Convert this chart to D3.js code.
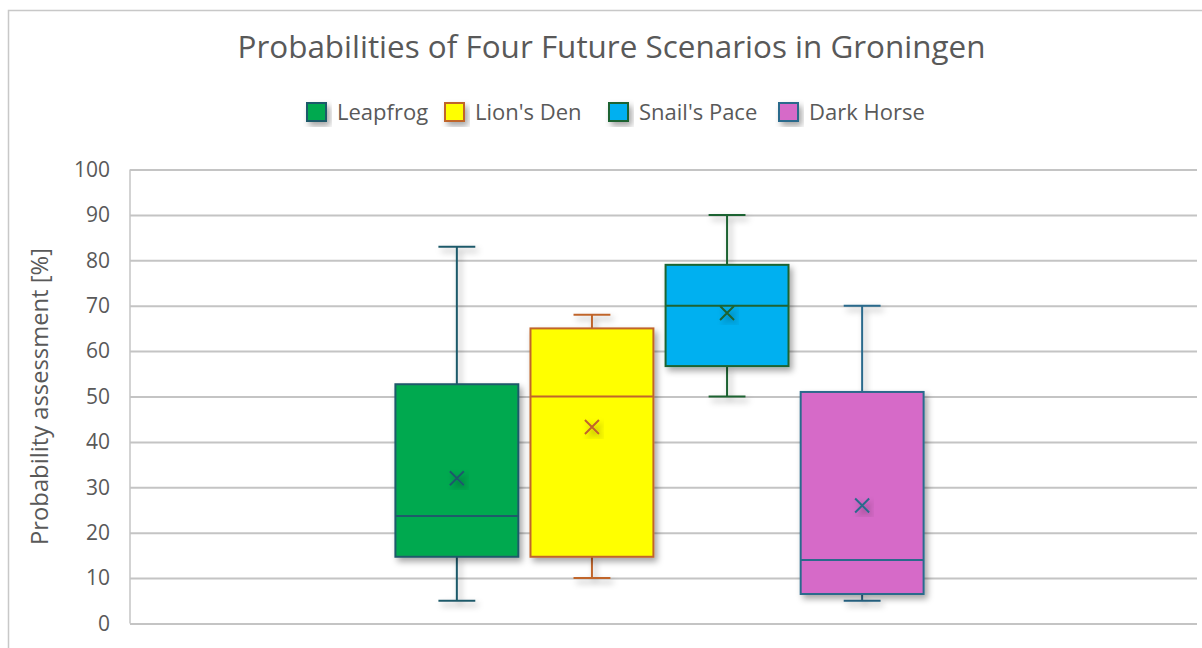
<!DOCTYPE html>
<html>
<head>
<meta charset="utf-8">
<script src="https://cdn.jsdelivr.net/npm/d3@7"></script>
<style>
  body { margin: 0; background: #fff; }
  svg { display: block; font-family: "Open Sans", "Liberation Sans", sans-serif; }
</style>
</head>
<body>
<svg id="chart" width="1202" height="648"></svg>
<script>
// data
const categories = [""];
const seriesNames = ["Leapfrog", "Lion's Den", "Snail's Pace", "Dark Horse"];
const minVals    = [5, 10, 50, 5];
const q1Vals     = [14.7, 14.7, 56.7, 6.5];
const medianVals = [23.7, 50, 70, 14];
const q3Vals     = [52.7, 65, 79, 51];
const maxVals    = [83, 68, 90, 70];
const meanVals   = [32, 43.3, 68.4, 26];
const yTicks = [0, 10, 20, 30, 40, 50, 60, 70, 80, 90, 100];

const fills   = ["#00A94F", "#FFFF00", "#00B0F0", "#D66BC8"];
const strokes = ["#1F5A6A", "#C0652C", "#1E6332", "#2A6A8C"];

const svg = d3.select("#chart");
const textCol = "#595959";

// drop shadow for the boxes
const defs = svg.append("defs");
const f = defs.append("filter").attr("id", "shadow")
  .attr("x", "-20%").attr("y", "-20%").attr("width", "150%").attr("height", "150%");
f.append("feDropShadow").attr("dx", 3).attr("dy", 4).attr("stdDeviation", 3)
  .attr("flood-color", "#000").attr("flood-opacity", 0.35);

// outer frame
svg.append("rect").attr("x", 8.5).attr("y", 10.5).attr("width", 1220).attr("height", 680)
  .attr("fill", "none").attr("stroke", "#C8C8C8").attr("stroke-width", 1.5);

const plot = { left: 130, right: 1197, top: 169.5, bottom: 623.5 };

const y = d3.scaleLinear().domain([0, 100]).range([plot.bottom, plot.top]);
const x0 = d3.scaleBand().domain(categories).range([plot.left - 4, plot.right - 4])
  .paddingInner(0).paddingOuter(0.51);
const x1 = d3.scaleBand().domain(seriesNames).range([0, x0.bandwidth()])
  .paddingInner(0.09).paddingOuter(0);

// gridlines
const grid = svg.append("g")
  .attr("transform", `translate(${plot.left},0)`)
  .call(d3.axisLeft(y).tickValues(yTicks).tickSize(-(plot.right - plot.left)).tickFormat(""));
grid.select(".domain").remove();
grid.selectAll(".tick line").attr("stroke", "#C4C4C4").attr("stroke-width", 2);

// vertical axis line
svg.append("line").attr("x1", plot.left).attr("x2", plot.left)
  .attr("y1", plot.top).attr("y2", plot.bottom)
  .attr("stroke", "#C4C4C4").attr("stroke-width", 1.5);

// y tick labels
const yAxis = svg.append("g")
  .attr("transform", `translate(${plot.left - 20},0)`)
  .call(d3.axisLeft(y).tickValues(yTicks).tickSize(0).tickPadding(0));
yAxis.select(".domain").remove();
yAxis.selectAll("text").attr("fill", textCol).attr("font-size", 21)
  .attr("font-family", "'Open Sans', sans-serif");

// y axis title
svg.append("text")
  .attr("transform", `translate(48,${(545 + 248) / 2}) rotate(-90)`)
  .attr("text-anchor", "middle").attr("fill", textCol).attr("font-size", 23)
  .attr("textLength", 297).attr("lengthAdjust", "spacingAndGlyphs")
  .text("Probability assessment [%]");

// title
svg.append("text").attr("x", 611.5).attr("y", 58).attr("text-anchor", "middle")
  .attr("fill", textCol).attr("font-size", 31)
  .attr("textLength", 748).attr("lengthAdjust", "spacingAndGlyphs")
  .text("Probabilities of Four Future Scenarios in Groningen");

// legend
const legendX = [307, 445, 609, 779];
const leg = svg.append("g").selectAll("g").data(seriesNames).join("g")
  .attr("transform", (d, i) => `translate(${legendX[i]},103)`);
leg.append("rect").attr("width", 19).attr("height", 18)
  .attr("fill", (d, i) => fills[i]).attr("stroke", (d, i) => strokes[i]).attr("stroke-width", 2)
  .attr("filter", "url(#shadow)");
leg.append("text").attr("x", 30).attr("y", 17).attr("fill", textCol).attr("font-size", 22)
  .text(d => d);

// boxes
const boxes = seriesNames.map((name, i) => ({
  name, i, min: minVals[i], q1: q1Vals[i], med: medianVals[i], q3: q3Vals[i],
  max: maxVals[i], mean: meanVals[i]
}));

const g = svg.append("g").attr("transform", `translate(${x0(categories[0])},0)`);
const bw = x1.bandwidth();
const cap = bw * 0.3;

const box = g.selectAll("g.box").data(boxes).join("g").attr("class", "box")
  .attr("transform", d => `translate(${x1(d.name)},0)`);

// whiskers
box.append("path")
  .attr("d", d => {
    const c = bw / 2;
    return `M${c},${y(d.max)}V${y(d.q3)}M${c},${y(d.q1)}V${y(d.min)}` +
      `M${c - cap / 2},${y(d.max)}H${c + cap / 2}M${c - cap / 2},${y(d.min)}H${c + cap / 2}`;
  })
  .attr("fill", "none").attr("stroke", d => strokes[d.i]).attr("stroke-width", 2)
  .attr("filter", "url(#shadow)");

box.append("rect")
  .attr("x", 0).attr("width", bw)
  .attr("y", d => y(d.q3)).attr("height", d => y(d.q1) - y(d.q3))
  .attr("fill", d => fills[d.i]).attr("stroke", d => strokes[d.i]).attr("stroke-width", 2)
  .attr("filter", "url(#shadow)");

box.append("line")
  .attr("x1", 0).attr("x2", bw)
  .attr("y1", d => y(d.med)).attr("y2", d => y(d.med))
  .attr("stroke", d => strokes[d.i]).attr("stroke-width", 2);

// mean markers
const m = 7;
box.append("path")
  .attr("d", d => {
    const cx = bw / 2, cy = y(d.mean);
    return `M${cx - m},${cy - m}L${cx + m},${cy + m}M${cx - m},${cy + m}L${cx + m},${cy - m}`;
  })
  .attr("stroke", d => strokes[d.i]).attr("stroke-width", 2).attr("fill", "none")
  .attr("filter", "url(#shadow)");
</script>
</body>
</html>
